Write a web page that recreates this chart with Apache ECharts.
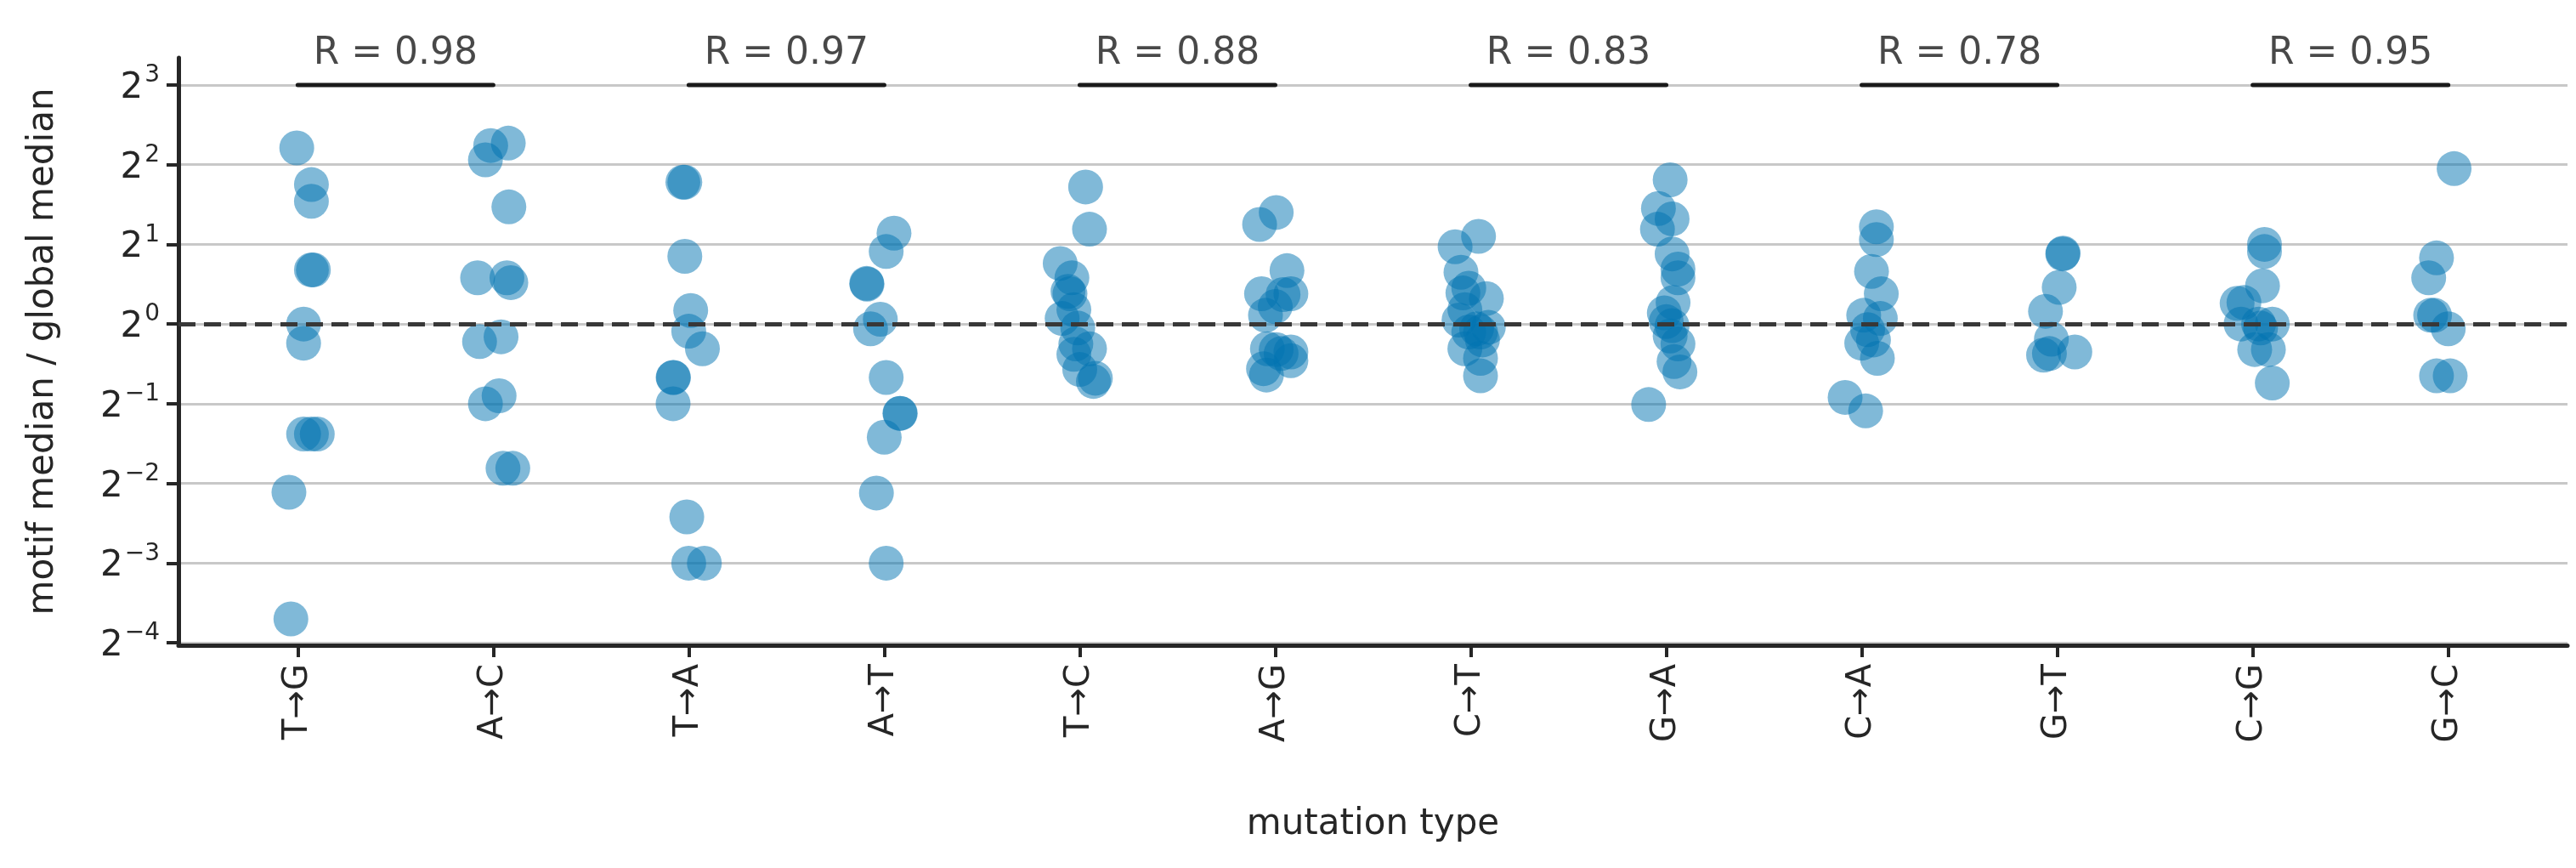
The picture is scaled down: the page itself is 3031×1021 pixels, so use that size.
<!DOCTYPE html>
<html>
<head>
<meta charset="utf-8">
<script src="https://cdn.jsdelivr.net/npm/echarts@6/dist/echarts.min.js"></script>
<style>
  html, body { margin: 0; padding: 0; background: #fff; }
  #chart { width: 3031px; height: 1021px; }
</style>
</head>
<body>
<div id="chart"></div>
<script>
// mutation types in plot order
const categories = ['T→G', 'A→C', 'T→A', 'A→T', 'T→C', 'A→G', 'C→T', 'G→A', 'C→A', 'G→T', 'C→G', 'G→C'];
// correlation for each pair of complementary mutation types
const rValues = ['0.98', '0.97', '0.88', '0.83', '0.78', '0.95'];
// y tick exponents (log2 scale)
const yTicks = [-4, -3, -2, -1, 0, 1, 2, 3];

// points per category: [jitter, log2(motif median / global median)]
const pTG = [[-0.005,2.21],[0.07,1.75],[0.07,1.54],[0.08,0.68],[0.07,0.68],[0.03,0.0],[0.03,-0.24],[0.03,-1.38],[0.07,-1.38],[0.10,-1.38],[-0.045,-2.11],[-0.035,-3.70]];
const pAC = [[-0.013,2.24],[0.077,2.27],[-0.04,2.06],[0.08,1.47],[-0.08,0.58],[0.07,0.58],[0.09,0.52],[0.04,-0.16],[-0.07,-0.22],[0.03,-0.90],[-0.04,-1.00],[0.05,-1.81],[0.10,-1.81]];
const pTA = [[-0.03,1.78],[-0.02,1.78],[-0.02,0.85],[0.01,0.17],[0.0,-0.09],[0.07,-0.31],[-0.08,-0.67],[-0.078,-0.67],[-0.08,-1.00],[-0.01,-2.42],[0.0,-3.0],[0.08,-3.0]];
const pAT = [[0.05,1.14],[0.01,0.91],[-0.09,0.51],[-0.088,0.50],[-0.02,0.06],[-0.07,-0.06],[0.01,-0.67],[0.08,-1.12],[0.082,-1.12],[0.0,-1.42],[-0.04,-2.12],[0.01,-3.0]];
const pTC = [[0.03,1.72],[0.05,1.19],[-0.10,0.76],[-0.04,0.58],[-0.06,0.41],[-0.05,0.38],[-0.03,0.18],[-0.09,0.07],[-0.01,-0.05],[0.05,-0.31],[-0.02,-0.25],[-0.03,-0.38],[0.0,-0.57],[0.08,-0.68],[0.07,-0.72]];
const pAG = [[0.005,1.40],[-0.08,1.25],[0.06,0.67],[-0.07,0.38],[0.08,0.38],[0.04,0.37],[0.0,0.22],[-0.05,0.11],[-0.04,-0.31],[0.005,-0.32],[0.08,-0.35],[0.03,-0.37],[0.08,-0.46],[-0.06,-0.56],[-0.045,-0.64]];
const pCT = [[-0.08,0.97],[0.04,1.10],[-0.05,0.65],[-0.01,0.45],[-0.04,0.39],[0.08,0.32],[-0.03,0.18],[-0.06,0.05],[0.09,-0.04],[0.03,-0.06],[0.05,-0.10],[-0.01,-0.10],[0.06,-0.20],[-0.03,-0.31],[0.05,-0.43],[0.05,-0.65]];
const pGA = [[0.02,1.81],[-0.04,1.45],[0.03,1.32],[-0.045,1.19],[0.03,0.88],[0.06,0.69],[0.06,0.58],[0.035,0.27],[-0.01,0.14],[0.0,0.03],[0.03,-0.02],[0.02,-0.15],[0.06,-0.25],[0.04,-0.47],[0.07,-0.60],[-0.09,-1.01]];
const pCA = [[0.075,1.22],[0.075,1.06],[0.05,0.66],[0.10,0.38],[0.01,0.11],[0.095,0.07],[0.03,-0.07],[0.06,-0.20],[0.0,-0.24],[0.08,-0.43],[-0.085,-0.92],[0.02,-1.09]];
const pGT = [[0.03,0.89],[0.028,0.88],[0.01,0.46],[-0.06,0.16],[-0.03,-0.19],[-0.07,-0.39],[-0.04,-0.37],[0.09,-0.35]];
const pCG = [[0.06,1.0],[0.06,0.91],[0.05,0.48],[-0.08,0.26],[-0.045,0.27],[-0.06,0.0],[0.03,0.0],[0.10,0.0],[0.04,-0.05],[0.01,-0.32],[0.08,-0.32],[0.10,-0.74]];
const pGC = [[0.03,1.95],[-0.06,0.83],[-0.10,0.58],[-0.09,0.11],[-0.07,0.11],[0.0,-0.06],[-0.06,-0.65],[0.01,-0.65]];
const points = [pTG, pAC, pTA, pAT, pTC, pAG, pCT, pGA, pCA, pGT, pCG, pGC];

const font = 'DejaVu Sans';
const ink = '#262626';

let scatterData = [];
points.forEach((pts, i) => {
  pts.forEach(p => scatterData.push([i + p[0], p[1]]));
});

let series = [{
  type: 'scatter',
  data: scatterData,
  symbolSize: 41,
  itemStyle: { color: '#0173b2', opacity: 0.5 },
  z: 3,
  markLine: {
    silent: true,
    symbol: 'none',
    label: { show: false },
    lineStyle: { color: '#383838', width: 5, type: 'dashed', dashOffset: 0 },
    data: [{ yAxis: 0 }]
  }
}];

rValues.forEach((r, k) => {
  series.push({
    type: 'line',
    data: [[2 * k, 3], [2 * k + 1, 3]],
    symbol: 'none',
    lineStyle: { color: '#1a1a1a', width: 5, cap: 'round' },
    z: 4
  });
  series.push({
    type: 'scatter',
    data: [[2 * k + 0.5, 3]],
    symbolSize: 0,
    label: {
      show: true,
      position: 'top',
      distance: 14,
      formatter: 'R = ' + r,
      fontFamily: font,
      fontSize: 44,
      color: '#1a1a1a'
    },
    z: 4
  });
});

const option = {
  animation: false,
  grid: { left: 210, right: 10, top: 68, bottom: 262, containLabel: false },
  xAxis: {
    type: 'value',
    min: -0.61,
    max: 11.61,
    interval: 1,
    name: 'mutation type',
    nameLocation: 'middle',
    nameGap: 190,
    nameTextStyle: { fontFamily: font, fontSize: 42, color: ink },
    axisLine: { onZero: false, lineStyle: { color: ink, width: 5 } },
    axisTick: { show: true, length: 14, lineStyle: { color: ink, width: 4 }, customValues: categories.map((c, i) => i) },
    axisLabel: {
      fontFamily: font, fontSize: 40, color: ink, rotate: 90, margin: 22,
      customValues: categories.map((c, i) => i),
      formatter: v => categories[Math.round(v)] || ''
    },
    splitLine: { show: false }
  },
  yAxis: {
    type: 'value',
    min: -4.03,
    max: 3.34,
    name: 'motif median / global median',
    nameLocation: 'middle',
    nameGap: 138,
    nameTextStyle: { fontFamily: font, fontSize: 42, color: ink },
    axisLine: { onZero: false, lineStyle: { color: ink, width: 5 } },
    axisTick: { show: true, length: 14, lineStyle: { color: ink, width: 4 }, customValues: yTicks },
    axisLabel: {
      color: ink, margin: 22,
      customValues: yTicks,
      formatter: v => '{b|2}{s|' + String(v).replace('-', '−') + '}',
      rich: {
        b: { fontFamily: font, fontSize: 42, color: ink, verticalAlign: 'bottom', lineHeight: 44 },
        s: { fontFamily: font, fontSize: 28, color: ink, verticalAlign: 'top', padding: [0, 0, 22, 2] }
      }
    },
    splitLine: { show: true, lineStyle: { color: '#c8c8c8', width: 3 } }
  },
  series: series
};

const chart = echarts.init(document.getElementById('chart'));
chart.setOption(option);
</script>
</body>
</html>
